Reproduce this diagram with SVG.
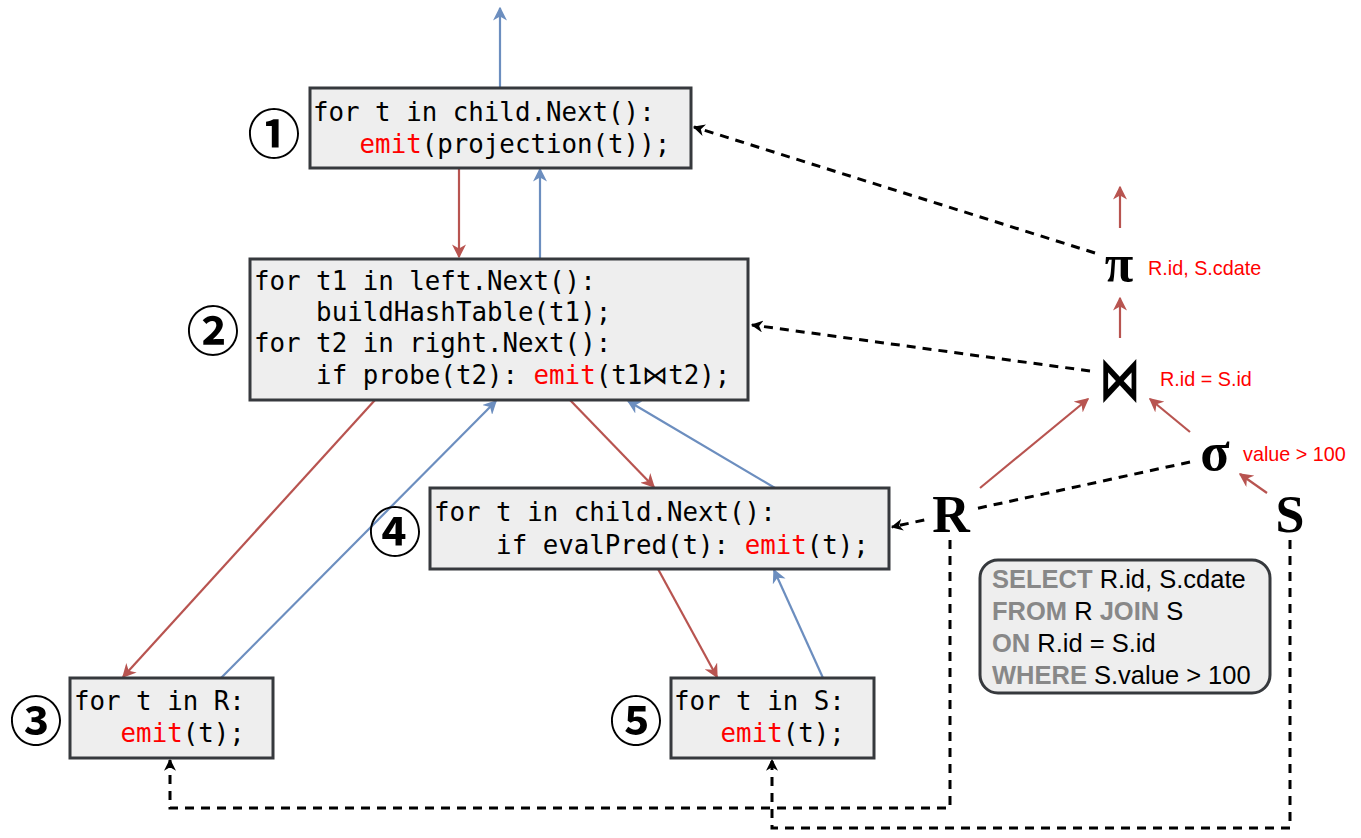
<svg xmlns="http://www.w3.org/2000/svg" width="1361" height="838" viewBox="0 0 1361 838">
<defs>
<style>
.box{fill:#eeeeee;stroke:#36393d;stroke-width:3}
.code{font-family:"DejaVu Sans Mono","Liberation Mono",monospace;font-size:25.8px;fill:#000;white-space:pre}
.kw{fill:#ff0000}
.num{font-family:"Noto Sans CJK JP","DejaVu Sans",sans-serif;font-size:53px;font-weight:bold;text-anchor:middle;dominant-baseline:central}
.sym{font-family:"Liberation Serif","DejaVu Serif",serif;font-weight:bold;fill:#000}
.lbl{font-family:"Liberation Sans",Arial,sans-serif;font-size:19.8px;fill:#ff0000}
.sql{font-family:"Liberation Sans",Arial,sans-serif;font-size:25.5px;fill:#000}
.sqlkw{font-weight:bold;fill:#888888}
.blue{stroke:#6c8ebf;stroke-width:2.2;fill:none;marker-end:url(#ab)}
.red{stroke:#b85450;stroke-width:2.2;fill:none;marker-end:url(#ar)}
.dash{stroke:#000;stroke-width:3;stroke-dasharray:9 7;fill:none;marker-end:url(#ak)}
</style>
<marker id="ab" viewBox="0 0 10 10" refX="9" refY="5" markerWidth="14" markerHeight="14" orient="auto" markerUnits="userSpaceOnUse">
<path d="M0,0 L10,5 L0,10 L3,5 z" fill="#6c8ebf"/>
</marker>
<marker id="ar" viewBox="0 0 10 10" refX="9" refY="5" markerWidth="14" markerHeight="14" orient="auto" markerUnits="userSpaceOnUse">
<path d="M0,0 L10,5 L0,10 L3,5 z" fill="#b85450"/>
</marker>
<marker id="ak" viewBox="0 0 10 10" refX="9" refY="5" markerWidth="12" markerHeight="12" orient="auto" markerUnits="userSpaceOnUse">
<path d="M0,0 L10,5 L0,10 L3,5 z" fill="#000"/>
</marker>
</defs>
<rect width="1361" height="838" fill="#ffffff"/>

<g id="connectors">
<line class="blue" x1="500" y1="88" x2="500" y2="8"/>
<line class="red" x1="459" y1="168" x2="459" y2="257"/>
<line class="blue" x1="540" y1="258" x2="540" y2="169"/>
<line class="red" x1="375" y1="400" x2="123" y2="677"/>
<line class="blue" x1="221" y1="678" x2="496" y2="401"/>
<line class="red" x1="570" y1="400" x2="654" y2="487"/>
<line class="blue" x1="775" y1="488" x2="628" y2="401"/>
<line class="red" x1="658" y1="569" x2="717" y2="677"/>
<line class="blue" x1="823" y1="678" x2="774" y2="570"/>
<line class="red" x1="1267" y1="493" x2="1240" y2="474"/>
<line class="red" x1="1190" y1="432" x2="1150" y2="399"/>
<line class="red" x1="980" y1="488" x2="1088" y2="399"/>
<line class="red" x1="1120" y1="338" x2="1120" y2="298"/>
<line class="red" x1="1120" y1="228" x2="1120" y2="187"/>
<line class="dash" x1="1095" y1="253" x2="694" y2="127"/>
<line class="dash" x1="1090" y1="371" x2="752" y2="325"/>
<line class="dash" x1="1190" y1="462" x2="892" y2="527"/>
<polyline class="dash" points="950,540 950,808 170,808 170,760"/>
<polyline class="dash" points="1290,540 1290,828 772,828 772,760"/>
</g>

<g id="b1">
<rect class="box" x="310" y="88" width="381" height="80"/>
<text class="code" x="313" y="121">for t in child.Next():</text>
<text class="code" x="313" y="153">   <tspan class="kw">emit</tspan>(projection(t));</text>
<text class="num" x="274" y="131">①</text>
</g>
<g id="b2">
<rect class="box" x="250" y="259" width="498" height="141"/>
<text class="code" x="254" y="290">for t1 in left.Next():</text>
<text class="code" x="254" y="321">    buildHashTable(t1);</text>
<text class="code" x="254" y="352">for t2 in right.Next():</text>
<text class="code" x="254" y="384">    if probe(t2): <tspan class="kw">emit</tspan>(t1⋈t2);</text>
<text class="num" x="213" y="328">②</text>
</g>
<g id="b4">
<rect class="box" x="430" y="488" width="459" height="81"/>
<text class="code" x="434" y="521">for t in child.Next():</text>
<text class="code" x="434" y="554">    if evalPred(t): <tspan class="kw">emit</tspan>(t);</text>
<text class="num" x="395" y="529">④</text>
</g>
<g id="b3">
<rect class="box" x="70" y="678" width="203" height="80"/>
<text class="code" x="74" y="710">for t in R:</text>
<text class="code" x="74" y="742">   <tspan class="kw">emit</tspan>(t);</text>
<text class="num" x="36" y="718">③</text>
</g>
<g id="b5">
<rect class="box" x="671" y="678" width="203" height="80"/>
<text class="code" x="674" y="710">for t in S:</text>
<text class="code" x="674" y="742">   <tspan class="kw">emit</tspan>(t);</text>
<text class="num" x="636" y="718">⑤</text>
</g>

<g id="pi">
<text class="sym" x="1119" y="281" font-size="52" text-anchor="middle">π</text>
<text class="lbl" x="1148" y="275">R.id, S.cdate</text>
</g>
<g id="join">
<text x="1120" y="392" font-family="DejaVu Sans, sans-serif" font-size="42" font-weight="bold" text-anchor="middle" transform="translate(1120 375) scale(1 1.45) translate(-1120 -375)">⋈</text>
<text class="lbl" x="1160" y="386">R.id = S.id</text>
</g>
<g id="sigma">
<text class="sym" x="1215" y="470" font-size="54" text-anchor="middle">σ</text>
<text class="lbl" x="1243" y="461">value &gt; 100</text>
</g>
<g id="R">
<rect x="929" y="494" width="44" height="42" fill="#ffffff"/>
<text class="sym" x="951" y="532" font-size="52" text-anchor="middle">R</text>
</g>
<g id="S">
<text class="sym" x="1290" y="532" font-size="52" text-anchor="middle">S</text>
</g>
<g id="sqlbox">
<rect x="980" y="560" width="290" height="133" rx="18" ry="18" fill="#eeeeee" stroke="#36393d" stroke-width="3"/>
<text class="sql" x="992" y="588"><tspan class="sqlkw">SELECT</tspan> R.id, S.cdate</text>
<text class="sql" x="992" y="620"><tspan class="sqlkw">FROM</tspan> R <tspan class="sqlkw">JOIN</tspan> S</text>
<text class="sql" x="992" y="652"><tspan class="sqlkw">ON</tspan> R.id = S.id</text>
<text class="sql" x="992" y="684"><tspan class="sqlkw">WHERE</tspan> S.value &gt; 100</text>
</g>
</svg>
